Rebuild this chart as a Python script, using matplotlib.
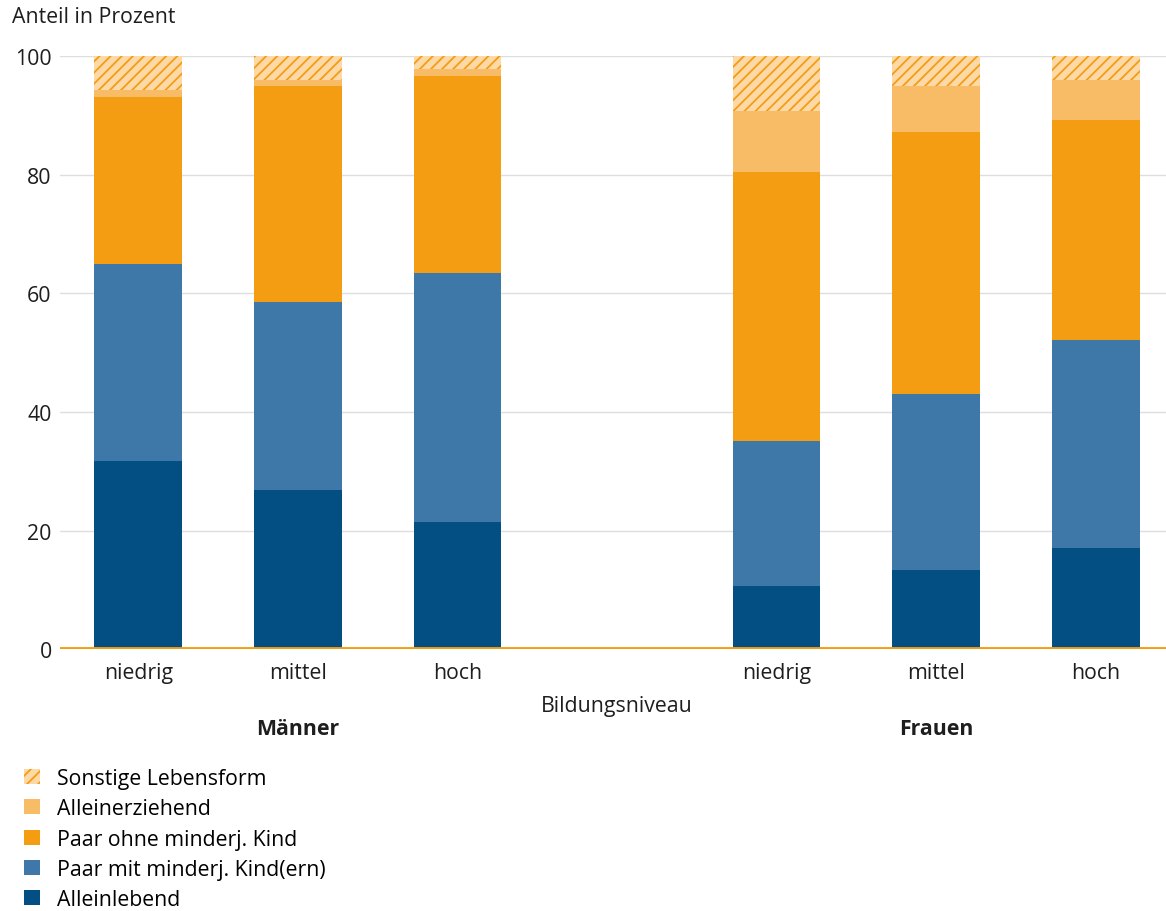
import matplotlib.pyplot as plt
import numpy as np

plt.rcParams['font.family'] = ['Open Sans', 'DejaVu Sans']
plt.rcParams['hatch.linewidth'] = 1.3

# Anteile in Prozent je Bildungsniveau (Männer: niedrig, mittel, hoch; Frauen: niedrig, mittel, hoch)
bildung = ['niedrig', 'mittel', 'hoch', 'niedrig', 'mittel', 'hoch']
gruppen = ['Männer', 'Frauen']

alleinlebend = [31.7, 26.8, 21.4, 10.6, 13.3, 17.0]
paar_mit_kind = [33.2, 31.7, 42.0, 24.5, 29.7, 35.1]
paar_ohne_kind = [28.2, 36.4, 33.3, 45.3, 44.2, 37.1]
alleinerziehend = [1.2, 1.1, 1.1, 10.3, 7.7, 6.8]
sonstige = [5.7, 4.0, 2.2, 9.3, 5.1, 4.0]

serien = [
    ('Alleinlebend', alleinlebend, '#034f84', None),
    ('Paar mit minderj. Kind(ern)', paar_mit_kind, '#3d78a8', None),
    ('Paar ohne minderj. Kind', paar_ohne_kind, '#f49d12', None),
    ('Alleinerziehend', alleinerziehend, '#f8bb66', None),
    ('Sonstige Lebensform', sonstige, '#fdd9a8', '///'),
]

x = np.array([0, 1, 2, 4, 5, 6])
fs = 15.3
txt = '#1e1e1e'

fig = plt.figure(figsize=(11.66, 9.12), dpi=100)
ax = fig.add_axes([0.0515, 0.287, 0.9485, 0.6505])

unten = np.zeros(len(x))
handles = {}
for name, werte, farbe, hatch in serien:
    werte = np.array(werte)
    if hatch:
        b = ax.bar(x, werte, 0.55, bottom=unten, color=farbe, edgecolor='#f49d12',
                   linewidth=0, hatch=hatch, zorder=2)
    else:
        b = ax.bar(x, werte, 0.55, bottom=unten, color=farbe, linewidth=0, zorder=2)
    handles[name] = b
    unten += werte

ax.set_xlim(-0.49, 6.44)
ax.set_ylim(0, 100)
ax.set_yticks([0, 20, 40, 60, 80, 100])
ax.yaxis.grid(True, color='#dedede', linewidth=1)
ax.set_axisbelow(True)
ax.axhline(0, color='#f49d12', linewidth=3.5, zorder=3)
for s in ax.spines.values():
    s.set_visible(False)
ax.tick_params(axis='both', length=0, labelsize=fs, colors=txt)
ax.tick_params(axis='x', pad=9)
ax.tick_params(axis='y', pad=6)
ax.set_xticks(x)
ax.set_xticklabels(bildung)

fig.text(0.01, 0.981, 'Anteil in Prozent', fontsize=fs, color=txt, va='center')
ax.text(3, -9.4, 'Bildungsniveau', fontsize=fs, ha='center', va='center', color=txt)
ax.text(1, -13.3, gruppen[0], fontsize=fs, fontweight='bold', ha='center', va='center',
        color=txt)
ax.text(5, -13.3, gruppen[1], fontsize=fs, fontweight='bold', ha='center', va='center',
        color=txt)

reihenfolge = ['Sonstige Lebensform', 'Alleinerziehend', 'Paar ohne minderj. Kind',
               'Paar mit minderj. Kind(ern)', 'Alleinlebend']
fig.legend([handles[n] for n in reihenfolge], reihenfolge, loc='upper left',
           bbox_to_anchor=(0.021, 0.157), frameon=False, fontsize=fs,
           handlelength=0.72, handleheight=0.72, handletextpad=0.8, labelspacing=0.44,
           borderaxespad=0, borderpad=0)

fig.savefig('out.png', dpi=100)
